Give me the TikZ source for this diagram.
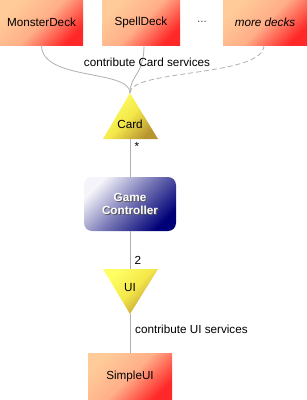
\documentclass[tikz,border=0pt]{standalone}
\usepackage{fontspec}
\setmainfont{Liberation Sans}
\definecolor{deckA}{HTML}{FFCC99}
\definecolor{deckM}{HTML}{FFAE88}
\definecolor{deckB}{HTML}{FF2828}
\definecolor{triA}{HTML}{FFFF66}
\definecolor{triM}{HTML}{F4E84A}
\definecolor{triB}{HTML}{B89430}
\definecolor{gcA}{HTML}{F4F4FA}
\definecolor{gcM}{HTML}{7474B4}
\definecolor{gcB}{HTML}{000078}
\definecolor{linecol}{HTML}{B0B0B0}
\begin{document}
\begin{tikzpicture}[x=1pt,y=-1pt,
  font=\fontsize{11.7}{13.5}\selectfont,
  deckbox/.style={rectangle, inner sep=0pt, minimum width=83pt, minimum height=45pt,
    top color=deckA, bottom color=deckB, middle color=deckM, shading angle=45},
  trishade/.style={top color=triA, bottom color=triB, middle color=triM, shading angle=45},
  gcbox/.style={rectangle, rounded corners=8pt, inner sep=0pt, minimum width=92pt, minimum height=54pt,
    top color=gcA, bottom color=gcB, middle color=gcM, shading angle=45},
  conn/.style={draw=linecol, line width=0.8pt},
  lbl/.style={inner sep=0pt}
]
\useasboundingbox (0,0) rectangle (307,400);
% deck boxes
\node[deckbox] (monster) at (41.5,22.5) {MonsterDeck};
\node[deckbox, minimum width=78pt] (spell) at (141,22.5) {SpellDeck};
\node[lbl, text=black!70] (dots) at (202,22) {...};
\node[deckbox, minimum width=84pt] (more) at (265,22.5) {\itshape more decks};
% Card triangle
\coordinate (cardtop) at (130,93);
\coordinate (cardbase) at (130,139);
\path[trishade] (cardtop) -- (158,139) -- (103,139) -- cycle;
\node[lbl] (card) at (130,124) {Card};
% connectors from decks
\draw[conn] (monster.south) .. controls +(0,36) and +(0,-24) .. (cardtop);
\draw[conn] ([xshift=3pt]spell.south) .. controls +(0,30) and +(0,-18) .. (cardtop);
\draw[conn, dashed, dash pattern=on 5pt off 3pt] ([xshift=-1pt]more.south) .. controls +(0,32) and +(0,-24) .. (cardtop);
\node[lbl] (cardlbl) at (147,62) {contribute Card services};
% Game controller
\node[gcbox] (gc) at (130,204) {};
\node[lbl, align=center, text=black!65, font=\fontsize{11.7}{13.5}\selectfont\bfseries] (gcshadow) at (131,204.8) {Game\\Controller};
\node[lbl, align=center, text=white, font=\fontsize{11.7}{13.5}\selectfont\bfseries] (gctext) at (130,204) {Game\\Controller};
\draw[conn] (cardbase) -- (gc.north);
\node[lbl] (star) at (137,146) {*};
% UI triangle
\coordinate (uitop) at (130,269);
\coordinate (uiapex) at (130,314);
\path[trishade] (103,269) -- (158,269) -- (uiapex) -- cycle;
\node[lbl] (ui) at (130,288) {UI};
\draw[conn] (gc.south) -- (uitop);
\node[lbl] (two) at (138,260) {2};
% SimpleUI
\node[deckbox, minimum width=84pt, minimum height=47pt] (simple) at (130,376.5) {SimpleUI};
\draw[conn] (uiapex) -- (simple.north);
\node[lbl, anchor=west] (uilbl) at (135,329) {contribute UI services};
\end{tikzpicture}
\end{document}
